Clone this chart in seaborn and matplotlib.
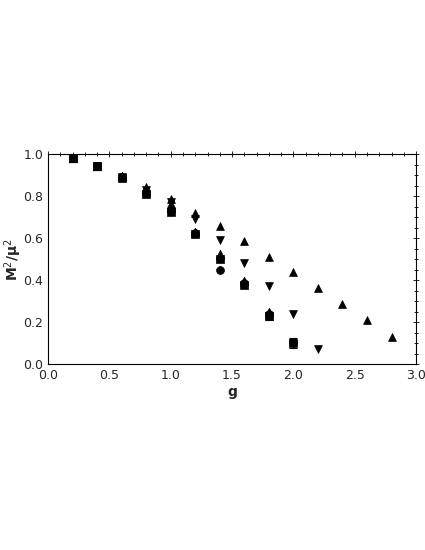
import numpy as np
import pandas as pd
import matplotlib
matplotlib.use("Agg")
import matplotlib.pyplot as plt
import seaborn as sns
from matplotlib.ticker import MultipleLocator, FormatStrFormatter

# valores
g_circ = [0.2, 0.4, 0.6, 0.8, 1.0, 1.2, 1.4, 1.6, 1.8, 2.0]
m_circ = [0.98, 0.945, 0.89, 0.815, 0.73, 0.625, 0.45, 0.385, 0.24, 0.105]

g_sq = [0.2, 0.4, 0.6, 0.8, 1.0, 1.2, 1.4, 1.6, 1.8, 2.0]
m_sq = [0.98, 0.945, 0.885, 0.81, 0.725, 0.62, 0.50, 0.375, 0.23, 0.10]
e_sq = [0, 0, 0, 0, 0, 0, 0, 0, 0.02, 0.025]

g_tri = [0.2, 0.4, 0.6, 0.8, 1.0, 1.2, 1.4, 1.6, 1.8]
m_tri = [0.98, 0.945, 0.895, 0.83, 0.76, 0.63, 0.525, 0.395, 0.25]

g_down = [0.2, 0.4, 0.6, 0.8, 1.0, 1.2, 1.4, 1.6, 1.8, 2.0, 2.2]
m_down = [0.98, 0.945, 0.89, 0.83, 0.77, 0.69, 0.59, 0.48, 0.37, 0.24, 0.07]

g_up = [0.2, 0.4, 0.6, 0.8, 1.0, 1.2, 1.4, 1.6, 1.8, 2.0, 2.2, 2.4, 2.6, 2.8]
m_up = [0.98, 0.945, 0.895, 0.845, 0.785, 0.72, 0.655, 0.585, 0.51, 0.44, 0.36, 0.285, 0.21, 0.13]

sns.set_style("white")
plt.rcParams['font.family'] = ['DejaVu Sans']

fig = plt.figure(figsize=(4.25, 5.5), dpi=100)
ax = fig.add_axes([0.113, 0.338, 0.866, 0.382])

series = [
    (g_circ, m_circ, "o", 32),
    (g_tri, m_tri, "^", 38),
    (g_sq, m_sq, "s", 36),
    (g_down, m_down, "v", 32),
    (g_up, m_up, "^", 32),
]
for gx, my, mk, sz in series:
    sns.scatterplot(x=gx, y=my, marker=mk, s=sz, color="black", edgecolor="black",
                    linewidth=0.5, ax=ax, legend=False, zorder=3)

ax.errorbar(g_sq, m_sq, yerr=e_sq, fmt="none", ecolor="black", elinewidth=0.8, capsize=3, capthick=0.8)

ax.set_xlim(0, 3.0)
ax.set_ylim(0, 1.0)
ax.xaxis.set_major_locator(MultipleLocator(0.5))
ax.xaxis.set_minor_locator(MultipleLocator(0.1))
ax.yaxis.set_major_locator(MultipleLocator(0.2))
ax.yaxis.set_minor_locator(MultipleLocator(0.05))
ax.xaxis.set_major_formatter(FormatStrFormatter("%.1f"))
ax.yaxis.set_major_formatter(FormatStrFormatter("%.1f"))

ax.tick_params(which="both", direction="inout", top=True, right=True, labelsize=9, width=0.7, pad=1)
ax.tick_params(which="major", length=5)
ax.tick_params(which="minor", length=3)

for sp in ax.spines.values():
    sp.set_linewidth(0.8)
    sp.set_color("black")

ax.set_xlabel("g", fontsize=10, fontweight="bold", labelpad=2)
ax.set_ylabel("M$^2$/μ$^2$", fontsize=10, fontweight="bold")
ax.yaxis.set_label_coords(-0.065, 0.5)

fig.savefig("out.png", dpi=100)
